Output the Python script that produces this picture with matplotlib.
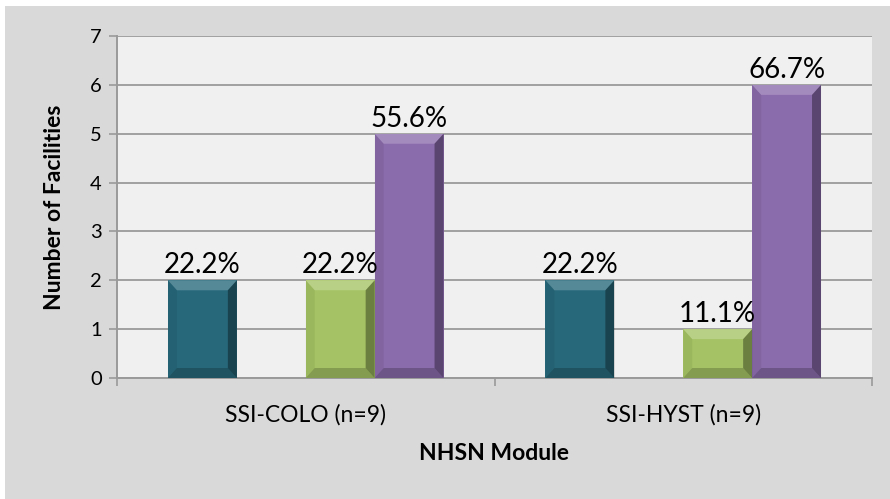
import matplotlib
matplotlib.use("Agg")
import matplotlib.pyplot as plt
from matplotlib.patches import Rectangle, Polygon
import numpy as np

plt.rcParams['font.family'] = ['Lato', 'DejaVu Sans']

categories = ["SSI-COLO (n=9)", "SSI-HYST (n=9)"]
series_a = [2, 2]          # teal
series_b = [0, 0]          # empty slot
series_c = [2, 1]          # green
series_d = [5, 6]          # purple
labels_a = ["22.2%", "22.2%"]
labels_b = [None, None]
labels_c = ["22.2%", "11.1%"]
labels_d = ["55.6%", "66.7%"]
colors = ["#27687a", "#4f81bd", "#a5c364", "#8a6bab"]
yticks = [0, 1, 2, 3, 4, 5, 6, 7]

W, H = 890, 499
fig = plt.figure(figsize=(W / 100, H / 100), dpi=100, facecolor="white")
fig.patches.append(Rectangle((5 / W, 0), (W - 5) / W, (H - 6) / H,
                             transform=fig.transFigure, facecolor="#d9d9d9",
                             edgecolor="none", zorder=-10))

ax_l, ax_r, ax_t, ax_b = 117, 872, 36, 378
ax = fig.add_axes([ax_l / W, (H - ax_b) / H, (ax_r - ax_l) / W, (ax_b - ax_t) / H])
ax.set_facecolor("#f0f0f0")
ax.set_xlim(-0.5, 1.5)
ax.set_ylim(0, 7)

x = np.arange(len(categories))
w = 0.1825
allseries = [series_a, series_b, series_c, series_d]
alllabels = [labels_a, labels_b, labels_c, labels_d]
offsets = [-1.5, -0.5, 0.5, 1.5]

px_x = (ax_r - ax_l) / 2.0
px_y = (ax_b - ax_t) / 7.0
bxx = 9 / px_x
byy = 10 / px_y

for s, labs, off, col in zip(allseries, alllabels, offsets, colors):
    bars = ax.bar(x + off * w, s, width=w, color=col, edgecolor="none", zorder=3)
    for bar, lab in zip(bars, labs):
        h = bar.get_height()
        if h <= 0:
            continue
        x0 = bar.get_x(); x1 = x0 + bar.get_width()
        y0 = 0; y1 = h
        top = Polygon([(x0, y1), (x1, y1), (x1 - bxx, y1 - byy), (x0 + bxx, y1 - byy)],
                      closed=True, facecolor="white", alpha=0.22, edgecolor="none", zorder=4)
        right = Polygon([(x1, y1), (x1, y0), (x1 - bxx, y0 + byy), (x1 - bxx, y1 - byy)],
                        closed=True, facecolor="black", alpha=0.35, edgecolor="none", zorder=4)
        bottom = Polygon([(x0, y0), (x1, y0), (x1 - bxx, y0 + byy), (x0 + bxx, y0 + byy)],
                         closed=True, facecolor="black", alpha=0.2, edgecolor="none", zorder=4)
        left = Polygon([(x0, y0), (x0, y1), (x0 + bxx, y1 - byy), (x0 + bxx, y0 + byy)],
                       closed=True, facecolor="black", alpha=0.06, edgecolor="none", zorder=4)
        for p in (top, right, bottom, left):
            ax.add_patch(p)
        if lab:
            ax.annotate(lab, (bar.get_x() + bar.get_width() / 2, h),
                        xytext=(0, 1.5), textcoords="offset points",
                        ha="center", va="bottom", fontsize=20, color="black", zorder=6)

ax.set_yticks(yticks)
ax.yaxis.grid(True, color="#a0a0a0", linewidth=1.4, zorder=1)
ax.set_axisbelow(True)
for sp in ["top", "right"]:
    ax.spines[sp].set_visible(False)
for sp in ["left", "bottom"]:
    ax.spines[sp].set_color("#9a9a9a")
    ax.spines[sp].set_linewidth(1.4)
ax.tick_params(axis="y", direction="out", length=6, width=1.2, color="#9a9a9a",
               labelsize=14.5, pad=5)
ax.set_xticks(x)
ax.set_xticklabels(categories)
ax.set_xticks([-0.5, 0.5, 1.5], minor=True)
ax.tick_params(axis="x", which="major", length=0, labelsize=16.5, pad=19)
ax.tick_params(axis="x", which="minor", direction="out", length=6, width=1.2, color="#9a9a9a")

fig.text((ax_l + ax_r) / 2 / W, (H - 453) / H, "NHSN Module", ha="center", va="center",
         fontsize=16.5, fontweight="bold")
fig.text(55 / W, (H - (ax_t + ax_b) / 2) / H, "Number of Facilities", ha="center", va="center",
         rotation=90, fontsize=16.5, fontweight="bold")

fig.savefig("out.png", dpi=100, facecolor=fig.get_facecolor())
